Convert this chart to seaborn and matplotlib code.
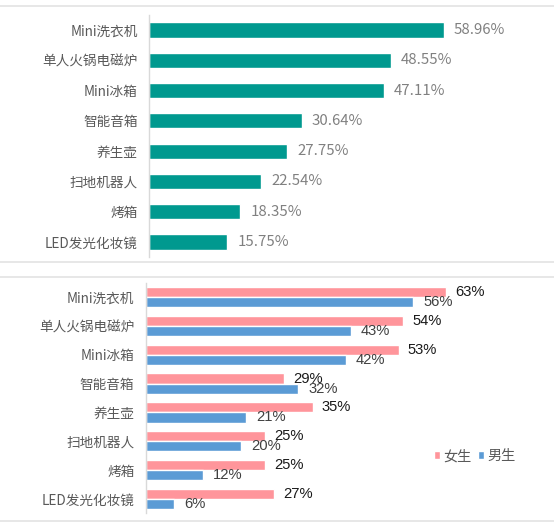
import pandas as pd
import seaborn as sns
import matplotlib.pyplot as plt
from matplotlib.patches import Patch
from matplotlib.lines import Line2D

# --- data ---
items = ["Mini洗衣机", "单人火锅电磁炉", "Mini冰箱", "智能音箱",
         "养生壶", "扫地机器人", "烤箱", "LED发光化妆镜"]
overall_pct = [58.96, 48.55, 47.11, 30.64, 27.75, 22.54, 18.35, 15.75]
female_pct = [63, 54, 53, 29, 35, 25, 25, 27]
male_pct = [56, 43, 42, 32, 21, 20, 12, 6]
genders = ["女生", "男生"]

TEAL = "#00998f"
PINK = "#ff959b"
BLUE = "#5b9bd5"

sns.set_theme(style="white")
plt.rcParams["font.family"] = ["Noto Sans CJK SC", "DejaVu Sans"]

W, H = 554, 528
fig = plt.figure(figsize=(W / 100, H / 100), dpi=100)
fig.patch.set_facecolor("white")


def px_axes(left, top, width, height):
    # place an axes using pixel coordinates measured from the top-left corner
    return fig.add_axes([left / W, 1 - (top + height) / H, width / W, height / H])


def style_axis(ax, xmax):
    ax.set_xlim(0, xmax)
    for side in ["top", "right", "bottom"]:
        ax.spines[side].set_visible(False)
    ax.spines["left"].set_color("#d9d9d9")
    ax.spines["left"].set_linewidth(1.0)
    ax.set_xticks([])
    ax.set_xlabel("")
    ax.set_ylabel("")
    ax.tick_params(axis="y", length=0, pad=8, labelsize=9.8, labelcolor="#595959")


# --- panel 1: overall ---
ax1 = px_axes(148.7, 14.8, 400, 242.4)
sns.barplot(x=overall_pct, y=items, orient="h", color=TEAL, width=0.5,
            saturation=1, ax=ax1)
style_axis(ax1, 80)
ax1.bar_label(ax1.containers[0], labels=[f"{v:.2f}%" for v in overall_pct],
              padding=7, fontsize=10.8, color="#808080")

# --- panel 2: by gender ---
df = pd.DataFrame({
    "item": items * 2,
    "pct": female_pct + male_pct,
    "gender": [genders[0]] * len(items) + [genders[1]] * len(items),
})
ax2 = px_axes(145.5, 282.6, 406, 230.8)
sns.barplot(data=df, x="pct", y="item", hue="gender", hue_order=genders,
            palette=[PINK, BLUE], orient="h", width=0.7, saturation=1,
            legend=False, ax=ax2)
style_axis(ax2, 85)
ax2.bar_label(ax2.containers[0], labels=[f"{v}%" for v in female_pct],
              padding=6.5, fontsize=10.6, color="#1a1a1a", family=["Liberation Sans"])
ax2.bar_label(ax2.containers[1], labels=[f"{v}%" for v in male_pct],
              padding=7.2, fontsize=10.6, color="#404040", family=["Liberation Sans"])

handles = [Patch(facecolor=PINK, label=genders[0]),
           Patch(facecolor=BLUE, label=genders[1])]
fig.legend(handles=handles, loc="center left", bbox_to_anchor=(434 / W, 1 - 456 / H),
           ncol=2, frameon=False, fontsize=10.2, labelcolor="#595959",
           handlelength=0.45, handleheight=0.45, handletextpad=0.2,
           columnspacing=0.45, borderpad=0, borderaxespad=0)

# light separator lines framing the two panels
for y in [6, 262.3, 276.7, 521]:
    fig.add_artist(Line2D([0, 1], [1 - y / H, 1 - y / H], color="#e3e3e3",
                          linewidth=1.2, transform=fig.transFigure))

fig.savefig("out.png", dpi=100, facecolor="white")
